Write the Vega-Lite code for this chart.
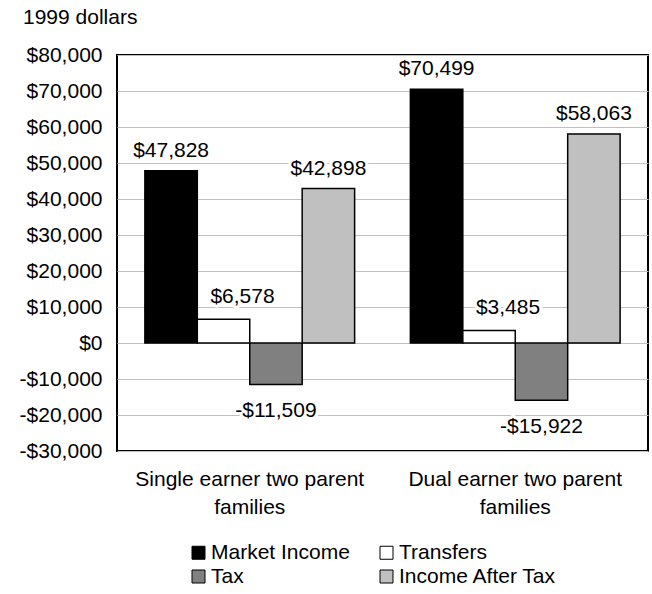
{
  "$schema": "https://vega.github.io/schema/vega-lite/v6.json",
  "width": 531,
  "height": 396,
  "autosize": "none",
  "padding": {"left": 117, "top": 55, "right": 4, "bottom": 143},
  "background": "white",
  "title": {"text": "1999 dollars", "anchor": "start", "frame": "group", "dx": -94, "offset": 16, "fontSize": 21, "font": "Liberation Sans", "fontWeight": "normal", "color": "black"},
  "config": {
    "view": {"stroke": "black", "strokeWidth": 2},
    "axis": {"labelFont": "Liberation Sans", "labelFontSize": 21, "labelColor": "black", "labelLimit": 0},
    "legend": {"labelFont": "Liberation Sans", "labelFontSize": 21, "labelColor": "black", "labelLimit": 0}
  },
  "data": {"values": [
    {"group": "Single earner two parent families", "series": "Market Income", "value": 47828},
    {"group": "Single earner two parent families", "series": "Transfers", "value": 6578},
    {"group": "Single earner two parent families", "series": "Tax", "value": -11509},
    {"group": "Single earner two parent families", "series": "Income After Tax", "value": 42898},
    {"group": "Dual earner two parent families", "series": "Market Income", "value": 70499},
    {"group": "Dual earner two parent families", "series": "Transfers", "value": 3485},
    {"group": "Dual earner two parent families", "series": "Tax", "value": -15922},
    {"group": "Dual earner two parent families", "series": "Income After Tax", "value": 58063}
  ]},
  "transform": [
    {"calculate": "(datum.value < 0 ? '-' : '') + '$' + format(abs(datum.value), ',')", "as": "label"}
  ],
  "encoding": {
    "x": {"field": "group", "type": "nominal", "sort": ["Single earner two parent families", "Dual earner two parent families"],
      "scale": {"paddingInner": 0.21, "paddingOuter": 0.105},
      "axis": {"title": null, "ticks": false, "domain": false, "labelAngle": 0, "labelPadding": 17, "labelLineHeight": 28,
        "labelExpr": "datum.value == 'Single earner two parent families' ? ['Single earner two parent', 'families'] : ['Dual earner two parent', 'families']"}},
    "xOffset": {"field": "series", "type": "nominal", "sort": ["Market Income", "Transfers", "Tax", "Income After Tax"], "scale": {"paddingInner": 0, "paddingOuter": 0}},
    "y": {"field": "value", "type": "quantitative", "scale": {"domain": [-30000, 80000], "nice": false, "zero": false},
      "axis": {"title": null, "values": [-30000, -20000, -10000, 0, 10000, 20000, 30000, 40000, 50000, 60000, 70000, 80000],
        "grid": true, "gridColor": "#c0c0c0", "gridWidth": 1, "ticks": false, "domain": false, "labelPadding": 15,
        "labelExpr": "(datum.value < 0 ? '-' : '') + '$' + format(abs(datum.value), ',')"}}
  },
  "layer": [
    {
      "mark": {"type": "bar", "stroke": "black", "strokeWidth": 1.5},
      "encoding": {
        "color": {"field": "series", "type": "nominal",
          "scale": {"domain": ["Market Income", "Transfers", "Tax", "Income After Tax"], "range": ["#000000", "#ffffff", "#808080", "#c0c0c0"]},
          "legend": {"title": null, "orient": "none", "direction": "horizontal", "legendX": 71, "legendY": 487, "columns": 2, "columnPadding": 26, "rowPadding": 2,
            "symbolType": "square", "symbolSize": 169, "symbolStrokeColor": "black", "symbolStrokeWidth": 1, "labelOffset": 2, "symbolOpacity": 1}}
      }
    },
    {
      "data": {"values": [{}]},
      "mark": {"type": "rule", "color": "black", "strokeWidth": 2.5},
      "encoding": {"x": {"value": -4}, "x2": {"value": 531}, "y": {"datum": 0}, "xOffset": null}
    },
    {
      "transform": [{"filter": "datum.value > 0 && datum.series != 'Transfers'"}],
      "mark": {"type": "text", "baseline": "bottom", "dy": -10, "font": "Liberation Sans", "fontSize": 21, "stroke": "white", "strokeWidth": 6, "fill": "white", "strokeJoin": "round"},
      "encoding": {"text": {"field": "label"}}
    },
    {
      "transform": [{"filter": "datum.value > 0 && datum.series != 'Transfers'"}],
      "mark": {"type": "text", "baseline": "bottom", "dy": -10, "font": "Liberation Sans", "fontSize": 21, "fill": "black"},
      "encoding": {"text": {"field": "label"}}
    },
    {
      "transform": [{"filter": "datum.series == 'Transfers'"}],
      "mark": {"type": "text", "baseline": "bottom", "dy": -12, "dx": 19, "font": "Liberation Sans", "fontSize": 21, "stroke": "white", "strokeWidth": 6, "fill": "white", "strokeJoin": "round"},
      "encoding": {"text": {"field": "label"}}
    },
    {
      "transform": [{"filter": "datum.series == 'Transfers'"}],
      "mark": {"type": "text", "baseline": "bottom", "dy": -12, "dx": 19, "font": "Liberation Sans", "fontSize": 21, "fill": "black"},
      "encoding": {"text": {"field": "label"}}
    },
    {
      "transform": [{"filter": "datum.value < 0"}],
      "mark": {"type": "text", "baseline": "top", "dy": 16, "font": "Liberation Sans", "fontSize": 21, "stroke": "white", "strokeWidth": 6, "fill": "white", "strokeJoin": "round"},
      "encoding": {"text": {"field": "label"}}
    },
    {
      "transform": [{"filter": "datum.value < 0"}],
      "mark": {"type": "text", "baseline": "top", "dy": 16, "font": "Liberation Sans", "fontSize": 21, "fill": "black"},
      "encoding": {"text": {"field": "label"}}
    }
  ]
}
